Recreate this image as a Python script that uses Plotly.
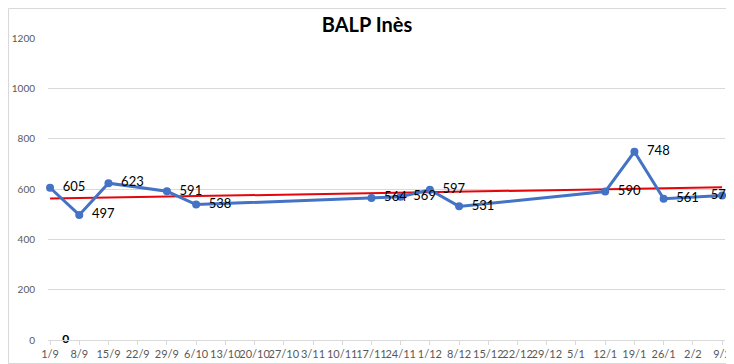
import numpy as np
import plotly.graph_objects as go

categories = ["1/9", "8/9", "15/9", "22/9", "29/9", "6/10", "13/10", "20/10", "27/10",
              "3/11", "10/11", "17/11", "24/11", "1/12", "8/12", "15/12", "22/12",
              "29/12", "5/1", "12/1", "19/1", "26/1", "2/2", "9/2"]
values = [605, 497, 623, None, 591, 538, None, None, None, None, None, 564, 569, 597,
          531, None, None, None, None, 590, 748, 561, None, 574]
zero_label_value = [0]
y_ticks = [0, 200, 400, 600, 800, 1000, 1200]

idx = np.arange(len(categories))
mask = np.array([v is not None for v in values])
vals = np.array([v if v is not None else np.nan for v in values], dtype=float)
slope, intercept = np.polyfit(idx[mask], vals[mask], 1)
trend = slope * idx + intercept

# page body has an 8px default margin, so the figure is sized to fit the window
W, H = 726, 356
ml, mr, mt, mb = 40, 9, 30, 24
pw, ph = W - ml - mr, H - mt - mb

font_fam = "Lato, Carlito, sans-serif"

last_i = max(i for i, v in enumerate(values) if v is not None)
labels = []
positions = []
for i, v in enumerate(values):
    if v is None:
        labels.append("")
        positions.append("middle right")
    elif i == last_i:
        labels.append(str(v))
        positions.append("middle center")
    else:
        labels.append("  " + str(v))
        positions.append("middle right")

fig = go.Figure()
fig.add_trace(go.Scatter(
    x=idx, y=trend, mode="lines",
    line=dict(color="#E3060B", width=2), hoverinfo="skip", showlegend=False))
fig.add_trace(go.Scatter(
    x=idx, y=values, mode="lines+markers+text", connectgaps=True,
    line=dict(color="#4472C4", width=3),
    marker=dict(color="#4472C4", size=8),
    text=labels, textposition=positions,
    textfont=dict(family=font_fam, size=13, color="#000000"),
    cliponaxis=False, showlegend=False))
fig.add_trace(go.Scatter(
    x=[0], y=zero_label_value, mode="text",
    text=["    <b>0</b>"], textposition="middle right",
    textfont=dict(family=font_fam, size=12, color="#000000"),
    cliponaxis=False, showlegend=False))

fig.update_layout(
    width=W, height=H,
    margin=dict(l=ml, r=mr, t=mt, b=mb, autoexpand=False),
    paper_bgcolor="white", plot_bgcolor="white",
    title=dict(text="<b>BALP Inès</b>", x=(367 - 8) / W, xanchor="center",
               y=1 - 17 / H, yanchor="middle", yref="container",
               font=dict(family=font_fam, size=20, color="#000000")),
    xaxis=dict(
        tickmode="array", tickvals=idx, ticktext=categories, tickangle=0,
        range=[-0.07, 23.1], showgrid=False, zeroline=False, automargin=False,
        showline=True, linecolor="#D9D9D9", linewidth=1,
        ticks="outside", ticklen=4, tickcolor="#D9D9D9",
        tickfont=dict(family=font_fam, size=11, color="#595959")),
    yaxis=dict(
        range=[0, 1200], tickvals=y_ticks, showgrid=True, gridcolor="#D9D9D9",
        gridwidth=1, zeroline=False, showline=False, ticklabelstandoff=12,
        automargin=False,
        tickfont=dict(family=font_fam, size=10, color="#595959")),
    shapes=[dict(type="rect", xref="paper", yref="paper",
                 x0=-(ml - 0.5) / pw, x1=1 + (mr - 0.5) / pw,
                 y0=-(mb - 0.5) / ph, y1=1 + (mt - 0.5) / ph,
                 line=dict(color="#D9D9D9", width=1))],
)

fig.write_html("out.html")
